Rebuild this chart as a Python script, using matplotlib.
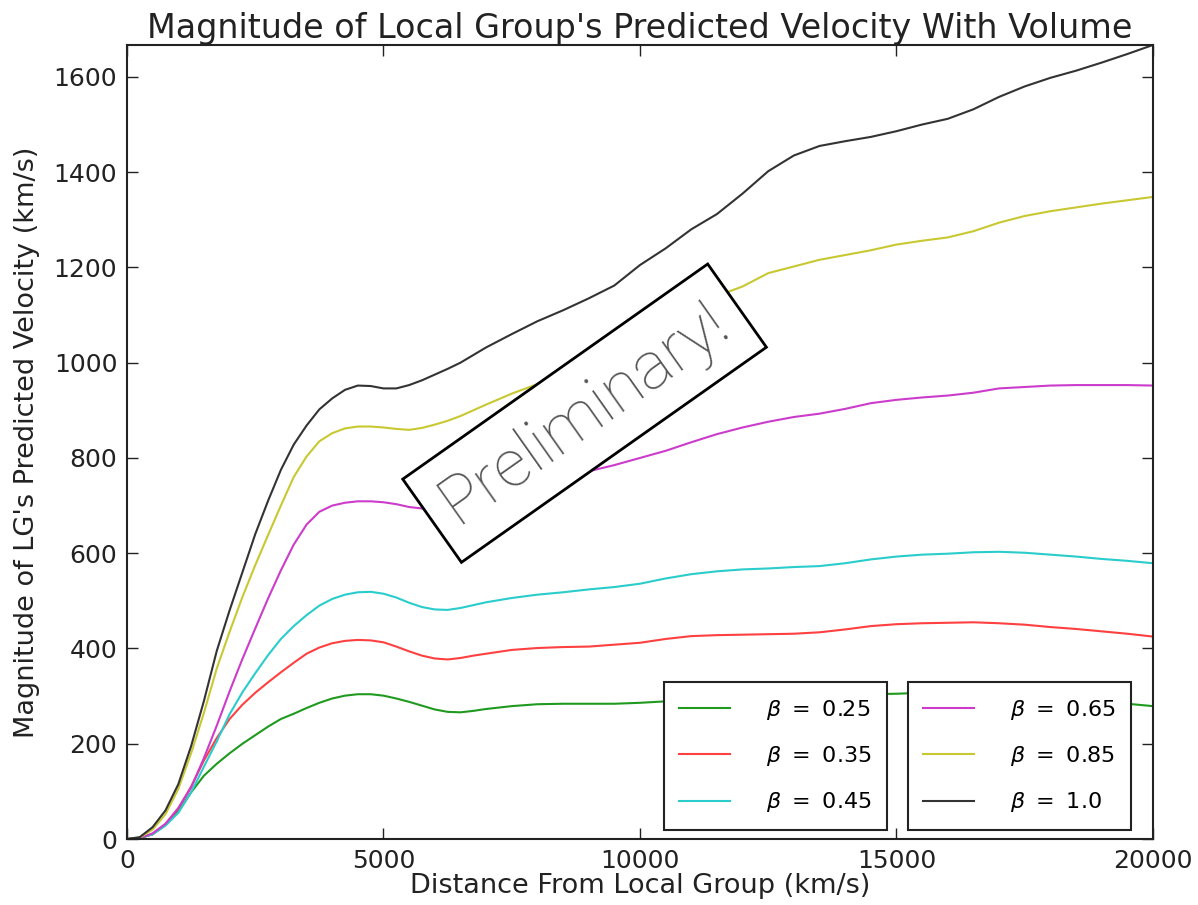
import numpy as np
import matplotlib
matplotlib.use("Agg")
import matplotlib.pyplot as plt

# distance from the local group (km/s)
dist = [0, 250, 500, 750, 1000, 1250, 1500, 1750, 2000, 2250, 2500, 2750,
        3000, 3250, 3500, 3750, 4000, 4250, 4500, 4750, 5000, 5250, 5500,
        5750, 6000, 6250, 6500, 6750, 7000,
        7500, 8000, 8500, 9000, 9500, 10000, 10500, 11000, 11500, 12000,
        12500, 13000, 13500, 14000, 14500, 15000, 15500, 16000, 16500,
        17000, 17500, 18000, 18500, 19000, 19500, 20000]

v_025 = [0, 2, 10, 30, 58, 98, 133, 158, 180, 200, 218, 236,
         252, 263, 275, 286, 295, 301, 304, 304, 301, 295, 288,
         280, 272, 267, 266, 269, 273,
         279, 283, 284, 284, 284, 286, 289, 292, 295, 297,
         299, 300, 302, 303, 304, 305, 307, 306, 304,
         301, 298, 295, 292, 288, 284, 279]
v_035 = [0, 2, 10, 31, 64, 110, 165, 212, 252, 282, 307, 329,
         350, 370, 389, 402, 411, 416, 418, 417, 413, 404, 394,
         385, 379, 377, 380, 385, 389,
         397, 401, 403, 404, 408, 412, 420, 426, 428, 429,
         430, 431, 434, 440, 447, 451, 453, 454, 455,
         453, 450, 445, 441, 436, 431, 425]
v_045 = [0, 2, 10, 28, 55, 98, 152, 205, 262, 308, 348, 386,
         420, 447, 470, 490, 504, 513, 518, 519, 515, 507, 496,
         487, 482, 481, 485, 491, 497,
         506, 513, 518, 524, 529, 536, 547, 556, 562, 566,
         568, 571, 573, 579, 587, 593, 597, 599, 602,
         603, 601, 597, 593, 588, 584, 579]
v_065 = [0, 2, 12, 32, 65, 108, 170, 238, 310, 378, 442, 505,
         564, 618, 660, 687, 700, 706, 709, 709, 707, 703, 697,
         694, 693, 695, 700, 706, 712,
         728, 745, 760, 772, 785, 800, 815, 833, 850, 864,
         876, 886, 893, 903, 915, 922, 927, 931, 937,
         946, 949, 952, 953, 953, 953, 952]
v_085 = [0, 3, 20, 52, 105, 180, 265, 358, 435, 508, 575, 638,
         700, 760, 803, 835, 852, 862, 866, 866, 864, 861, 859,
         863, 870, 878, 888, 900, 912,
         935, 955, 985, 1010, 1035, 1062, 1090, 1118, 1140, 1160,
         1188, 1202, 1216, 1226, 1236, 1248, 1256, 1263, 1276,
         1294, 1308, 1318, 1326, 1334, 1341, 1348]
v_100 = [0, 4, 25, 60, 115, 195, 290, 395, 480, 560, 640, 710,
         775, 828, 868, 902, 925, 943, 952, 951, 946, 946, 953,
         963, 975, 987, 1000, 1016, 1032,
         1060, 1087, 1110, 1135, 1162, 1205, 1240, 1280, 1312, 1355,
         1402, 1435, 1455, 1465, 1474, 1486, 1500, 1512, 1532,
         1558, 1580, 1598, 1613, 1630, 1648, 1667]

betas = ["0.25", "0.35", "0.45", "0.65", "0.85", "1.0"]
colors = ["#1f9a1f", "#ff4040", "#2acccc", "#cc3ccc", "#c8c832", "#333333"]
series = [v_025, v_035, v_045, v_065, v_085, v_100]

fig = plt.figure(figsize=(11.98, 9.05), dpi=100)
ax = fig.add_axes([0.106, 0.0729, 0.8564, 0.8774])

lines = []
for vals, b, c in zip(series, betas, colors):
    ln, = ax.plot(dist, vals, color=c, lw=1.5, label=r"$\beta\ =\ %s$" % b)
    lines.append(ln)

ax.set_xlim(0, 20000)
ax.set_ylim(0, max(v_100))
ax.set_xticks([0, 5000, 10000, 15000, 20000])
ax.set_yticks(range(0, 1601, 200))
ax.tick_params(direction="in", top=True, right=True, length=8, width=1,
               labelsize=18, pad=7, colors="#222222")
for s in ax.spines.values():
    s.set_linewidth(1.5)
    s.set_color("#222222")

ax.set_title("Magnitude of Local Group's Predicted Velocity With Volume",
             fontsize=24, color="#222222", pad=5)
ax.set_xlabel("Distance From Local Group (km/s)", fontsize=19.5, color="#222222", labelpad=0)
ax.set_ylabel("Magnitude of LG's Predicted Velocity (km/s)", fontsize=19.5,
              color="#222222", labelpad=10)

leg_kw = dict(fontsize=16, fancybox=False, framealpha=1, edgecolor="#222222",
              handlelength=2.3, handletextpad=1.6, labelspacing=1.0, borderpad=0.7,
              borderaxespad=0)
leg1 = ax.legend(handles=lines[:3], loc="lower right", bbox_to_anchor=(0.7407, 0.0113), **leg_kw)
leg1.get_frame().set_linewidth(1.5)
ax.add_artist(leg1)
leg2 = ax.legend(handles=lines[3:], loc="lower right", bbox_to_anchor=(0.9786, 0.0113), **leg_kw)
leg2.get_frame().set_linewidth(1.5)

ax.text(8920, 894, "Preliminary!", rotation=35.2, ha="center", va="center",
        rotation_mode="anchor", fontsize=48, family=["Roboto", "Open Sans"], fontweight="light",
        color="#555555", zorder=5,
        bbox=dict(boxstyle="square,pad=0.28", facecolor="white", edgecolor="black", linewidth=2))

fig.savefig("out.png", dpi=100)
